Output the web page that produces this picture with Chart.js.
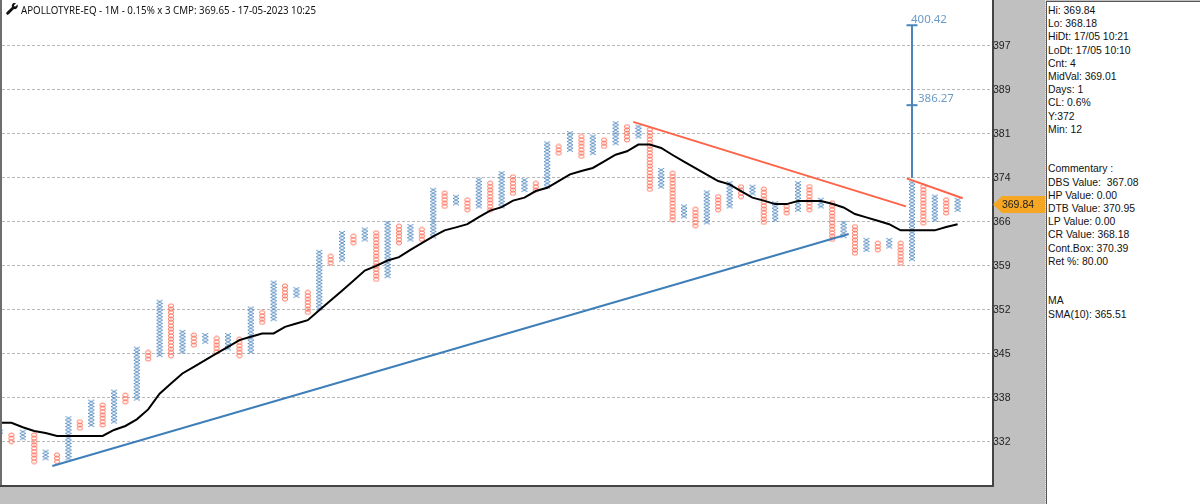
<!DOCTYPE html>
<html>
<head>
<meta charset="utf-8">
<title>APOLLOTYRE-EQ</title>
<script src="https://cdn.jsdelivr.net/npm/chart.js@4"></script>
<style>
html, body { margin:0; padding:0; background:#c0c0c0; overflow:hidden; }
#wrap { position:relative; width:1200px; height:504px; }
#wrap canvas { position:absolute; left:0; top:0; }
#head { position:absolute; left:21px; top:3px; font:10.4px "Noto Sans",sans-serif; color:#111; white-space:pre; transform:scaleX(0.937); transform-origin:left top; }
#wrench { position:absolute; left:6px; top:3px; }
#split { position:absolute; left:1045px; top:0; width:0; height:504px; border-left:1px dotted #e6e6e6; }
#info { position:absolute; left:1046px; top:1px; width:154px; height:503px; box-sizing:border-box; background:#fff;
	border-left:1px solid #555; border-top:1px solid #555; padding:2px 0 0 1px;
	font:10.4px/13.2px "Liberation Sans",sans-serif; color:#111; white-space:pre; }
</style>
</head>
<body>
<div id="wrap">
	<canvas id="pnf" width="1200" height="504"></canvas>
	<svg id="wrench" width="12" height="12" viewBox="0 0 12 12"><path d="M11.5 1.6 9.4 3.6 8.2 3.3 7.9 2.2 9.9.4C8.5-.2 6.9.2 6.2 1.4 5.7 2.2 5.7 3.2 6 4L.6 9.3C0 10 .1 10.9.7 11.4c.6.5 1.4.5 2-.1L8 6c1 .3 2 .1 2.8-.7.9-.9 1.2-2.4.7-3.7z" fill="#111"/></svg>
	<div id="head">APOLLOTYRE-EQ - 1M - 0.15% x 3 CMP: 369.65 - 17-05-2023 10:25</div>
	<div id="split"></div>
	<div id="info">Hi: 369.84
Lo: 368.18
HiDt: 17/05 10:21
LoDt: 17/05 10:10
Cnt: 4
MidVal: 369.01
Days: 1
CL: 0.6%
Y:372
Min: 12


Commentary :
DBS Value:  367.08
HP Value: 0.00
DTB Value: 370.95
LP Value: 0.00
CR Value: 368.18
Cont.Box: 370.39
Ret %: 80.00


MA
SMA(10): 365.51</div>
</div>
<script>
	// 컬럼은 X, O 번갈아 가며 나옴 (0번 컬럼이 X)
	const boxPct = 0.15;
	const columnBottoms = [
		332.75,332.25,332.75,329.28,329.77,329.28,329.77,334.25,334.75,334.75,
		335.26,338.25,338.75,344.82,345.44,345.34,345.96,347.00,347.53,345.96,
		346.48,345.34,345.96,350.55,351.07,354.24,354.78,352.13,352.76,360.07,
		360.60,363.33,363.89,357.40,357.93,363.33,363.89,363.89,364.38,369.34,
		369.84,368.77,369.34,368.77,369.34,371.51,372.07,372.07,372.64,378.30,
		378.86,377.74,378.30,379.43,379.99,380.55,381.13,372.18,372.64,367.11,
		367.68,366.12,366.69,368.77,369.34,370.96,371.51,366.69,367.11,368.23,
		368.77,368.77,369.34,363.89,364.43,361.64,362.19,362.19,362.73,360.02,
		360.68,366.57,367.11,368.23,368.77
	];
	const columnBoxes = [
		3,3,3,9,3,3,13,3,8,7,
		10,3,16,3,17,16,7,4,3,5,
		5,6,14,4,12,5,3,7,18,3,
		9,3,4,15,17,6,5,4,15,5,
		3,4,9,9,11,6,4,3,14,3,
		6,7,6,3,7,5,4,19,6,15,
		4,6,10,5,8,4,3,11,6,3,
		9,8,3,12,5,9,4,3,3,7,
		24,12,8,5,4
	];
	const smaValues = [
		335.09,335.09,334.40,333.85,333.55,333.10,333.10,333.10,333.10,333.10,
		334.00,334.60,335.60,337.10,339.50,341.04,342.60,343.62,344.66,345.70,
		346.73,347.77,348.29,348.82,348.82,349.85,350.39,350.91,352.49,354.02,
		355.60,357.20,358.83,359.59,360.45,361.00,362.19,363.29,364.38,365.38,
		365.87,366.40,367.56,368.65,369.21,370.30,370.80,371.90,372.45,373.58,
		374.70,375.27,375.78,376.91,378.03,378.61,379.75,379.75,379.18,377.98,
		376.84,375.77,374.64,373.58,373.02,371.90,370.80,370.30,369.72,369.72,
		370.25,370.25,370.25,369.77,369.17,368.08,367.52,366.95,366.40,365.38,
		365.38,365.38,365.38,365.92,366.40
	];
	const tickPrices = [397.1,389.3,381.7,374.2,366.9,359.7,352.6,345.7,338.9,332.3];
	const blueTrend = [{x:4.59,y:328.62},{x:74.45,y:364.77}];
	const redTrend1 = [{x:55.55,y:383.65},{x:79.47,y:369.35}];
	const redTrend2 = [{x:79.54,y:374.03},{x:84.45,y:370.69}];
	const targetColumn = 80;
	const targetBase = 374.1;
	const targetLevels = [400.7,386.55];
	const targetLabels = ["400.42","386.27"];
	const lastPrice = 369.84;

	const COL_BLUE = "#4f88c0", COL_RED = "#ff6a52", COL_TARGET = "#4a84b8";

	// X, O 모양 이미지 (가로로 넓고 세로로 납작함)
	function MakeMark(type) {
		let c = document.createElement("canvas");
		c.width = 8; c.height = 6;
		let g = c.getContext("2d");
		g.lineWidth = 0.9;
		if (type == "x") {
			g.strokeStyle = COL_BLUE;
			g.beginPath();
			g.moveTo(1,1.2); g.lineTo(7,4.8);
			g.moveTo(7,1.2); g.lineTo(1,4.8);
			g.stroke();
		} else {
			g.strokeStyle = COL_RED;
			g.beginPath();
			g.ellipse(4,3,2.6,2.0,0,0,Math.PI*2);
			g.stroke();
		}
		return c;
	}

	let xPoints = [], oPoints = [];
	columnBottoms.forEach((low, i) => {
		for (let k = 0; k < columnBoxes[i]; k++) {
			let p = {x:i, y:low*Math.pow(1+boxPct/100,k)};
			if (i % 2 == 0) xPoints.push(p); else oPoints.push(p);
		}
	});

	function lineSet(data, color, width) {
		return {type:"line", data:data, borderColor:color, borderWidth:width, pointRadius:0, tension:0, fill:false};
	}

	const paintPlugin = {
		id:"paint",
		beforeDraw(chart) {
			let g = chart.ctx, a = chart.chartArea;
			g.save();
			g.fillStyle = "#fff";
			g.fillRect(a.left, a.top, a.right-a.left, a.bottom-a.top);
			g.restore();
		},
		afterDraw(chart) {
			let g = chart.ctx, a = chart.chartArea, sx = chart.scales.x, sy = chart.scales.y;
			g.save();
			// 테두리
			g.fillStyle = "#6e6e6e";
			g.fillRect(0, 0, 2, a.bottom);
			g.fillStyle = "#444";
			g.fillRect(0, a.bottom, a.right+2, 2);
			g.fillRect(a.right, 0, 2, a.bottom);
			// 목표가 라벨
			g.fillStyle = "#6a9bc8";
			g.font = '11.5px "Noto Sans",sans-serif';
			g.textBaseline = "middle";
			let tx = sx.getPixelForValue(targetColumn);
			g.fillText(targetLabels[0], tx-1, sy.getPixelForValue(targetLevels[0])-6);
			g.fillText(targetLabels[1], tx+6, sy.getPixelForValue(targetLevels[1])-6);
			// 현재가 태그
			let ty = sy.getPixelForValue(lastPrice)+1;
			g.fillStyle = "#f5a623";
			g.beginPath();
			g.moveTo(a.right+1, ty);
			g.lineTo(a.right+10, ty-8.5);
			g.lineTo(1045, ty-8.5);
			g.lineTo(1045, ty+8.5);
			g.lineTo(a.right+10, ty+8.5);
			g.closePath();
			g.fill();
			g.fillStyle = "#222";
			g.font = '10.5px "Liberation Sans",sans-serif';
			g.textAlign = "center";
			g.fillText(lastPrice.toFixed(2), 1018, ty+0.5);
			g.restore();
		}
	};

	new Chart(document.getElementById("pnf"), {
		type:"scatter",
		data:{datasets:[
			{data:xPoints, pointStyle:MakeMark("x"), pointRadius:3, showLine:false, order:3},
			{data:oPoints, pointStyle:MakeMark("o"), pointRadius:3, showLine:false, order:3},
			Object.assign(lineSet(smaValues.map((v,i)=>({x:i,y:v})), "#000", 2), {order:2}),
			Object.assign(lineSet(blueTrend, "#3f7fb8", 2), {order:1}),
			Object.assign(lineSet(redTrend1, "#ff6347", 2), {order:1}),
			Object.assign(lineSet(redTrend2, "#ff6347", 2), {order:1}),
			Object.assign(lineSet([{x:targetColumn,y:targetBase},{x:targetColumn,y:targetLevels[0]}], COL_TARGET, 2), {order:1}),
			{data:targetLevels.map(v=>({x:targetColumn,y:v})), pointStyle:"line", pointRadius:5.5, borderColor:COL_TARGET, pointBorderWidth:2, showLine:false, order:1}
		]},
		options:{
			responsive:false,
			animation:false,
			events:[],
			layout:{autoPadding:false,padding:{left:2,top:0,right:0,bottom:19}},
			plugins:{legend:{display:false},tooltip:{enabled:false}},
			scales:{
				x:{type:"linear",display:false,min:0.175,max:87.02,grid:{display:false}},
				y:{
					type:"logarithmic",
					position:"right",
					min:325.83,
					max:405.28,
					afterBuildTicks(axis){ axis.ticks = tickPrices.map(v=>({value:v})); },
					afterFit(axis){ axis.width = 208; axis.paddingTop = 0; axis.paddingBottom = 0; },
					ticks:{
						autoSkip:false,
						padding:1,
						labelOffset:1,
						color:"#222",
						font:{family:'"Liberation Sans",sans-serif',size:10.5},
						callback(v){ return String(Math.floor(v)); }
					},
					border:{display:false,dash:[3,2]},
					grid:{color:"#b8b8b8",lineWidth:1,drawTicks:false}
				}
			}
		},
		plugins:[paintPlugin]
	});
</script>
</body>
</html>
